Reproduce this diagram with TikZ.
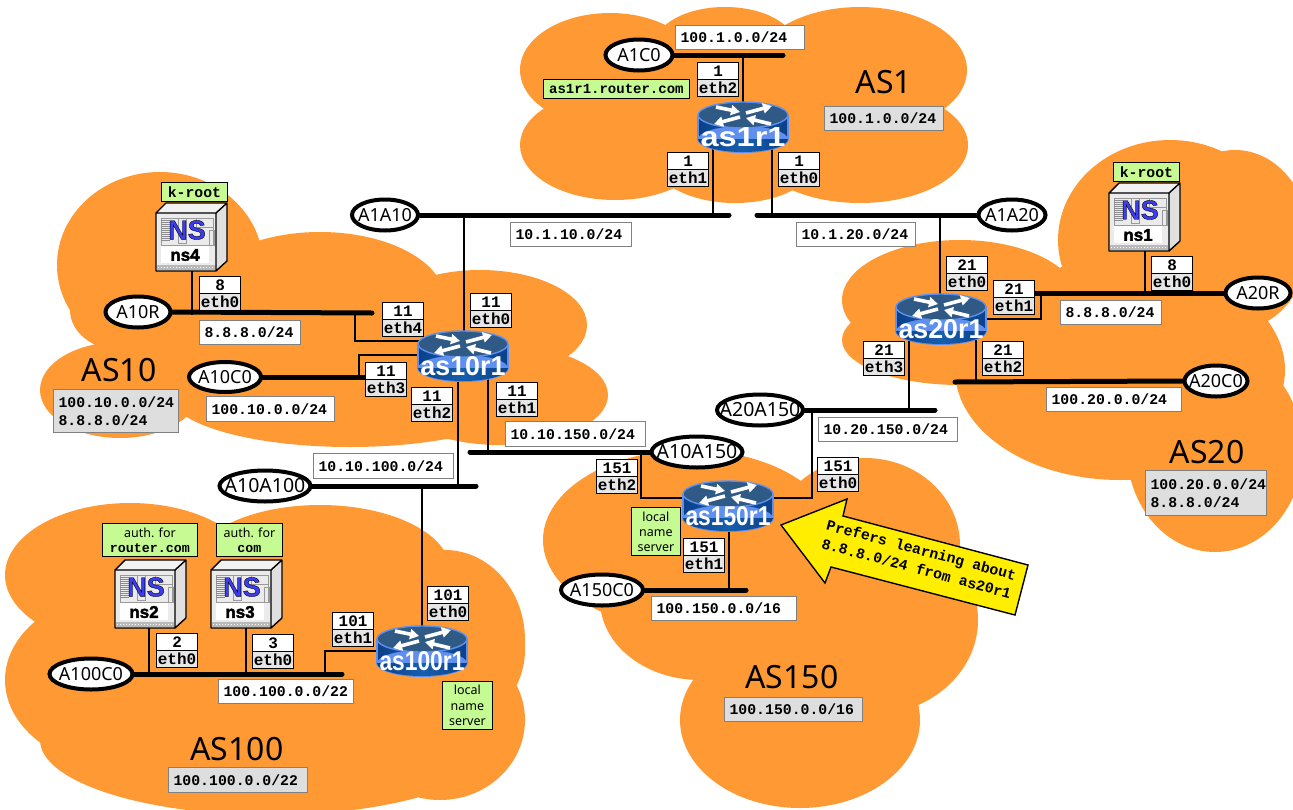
\documentclass[tikz,border=0pt]{standalone}
\usepackage{fontspec}
\setmainfont{Noto Sans}
\newfontfamily\cou{Liberation Mono}
\newfontfamily\ari{Liberation Sans}
\usetikzlibrary{shapes.geometric,arrows.meta,calc}
\definecolor{cloudc}{HTML}{FF9933}
\definecolor{greenb}{HTML}{C6FB93}
\definecolor{grayb}{HTML}{DEDEDE}
\definecolor{ifgray}{HTML}{E6E6E6}
\definecolor{boxedge}{HTML}{808080}
\definecolor{yelc}{HTML}{FFEE00}
\definecolor{rtop}{HTML}{2F5A85}
\definecolor{redge}{HTML}{5F8FEF}
\definecolor{rdark}{HTML}{0B3F88}
\definecolor{rmid}{HTML}{165FAE}
\tikzset{
  netnode/.style={ellipse,draw=black,line width=4pt,fill=white,inner sep=0pt,font=\fontsize{18}{20}\selectfont},
  netwide/.style={netnode,font=\fontsize{19.5}{20}\selectfont},
  bus/.style={line width=5pt,line cap=round,black},
  wire/.style={line width=1.4pt,black},
  subnetbox/.style={draw=boxedge,line width=1.2pt,fill=white},
  asbox/.style={draw=boxedge,line width=1.2pt,fill=grayb},
  greenbox/.style={draw=black,line width=.8pt,fill=greenb,inner sep=0pt,align=center},
  ifnum/.style={draw=black,line width=1.1pt,fill=white,minimum width=41pt,minimum height=17pt,inner sep=0pt,font=\fontsize{16}{16}\selectfont\cou\bfseries},
  ifname/.style={draw=black,line width=1.1pt,fill=ifgray,minimum width=41pt,minimum height=17pt,inner sep=0pt,font=\fontsize{16}{16}\selectfont\cou\bfseries},
  aslabel/.style={inner sep=0pt,font=\fontsize{32}{33}\selectfont},
  placeholder/.style={minimum width=90pt,minimum height=50pt,inner sep=0pt},
}
\newcommand{\nettext}[1]{\makebox[0pt]{#1}}
% left-aligned address box given by its corners
\newcommand{\addrbox}[7]{%
  \pgfmathsetlengthmacro{\tw}{#5-#3-10}\pgfmathsetlengthmacro{\th}{#6-#4}%
  \node[#2,anchor=north west,inner xsep=5pt,inner ysep=0pt,text width=\tw,minimum height=\th,align=left,
    font=\fontsize{14.8}{18}\selectfont\cou\bfseries] (#1) at (#3,#4) {#7};}
\newcommand{\greenlabel}[7]{%
  \pgfmathsetlengthmacro{\tw}{#4-#2}\pgfmathsetlengthmacro{\th}{#5-#3}%
  \node[greenbox,anchor=north west,minimum width=\tw,minimum height=\th,#6] (#1) at (#2,#3) {#7};}
\newcommand{\iflabel}[5]{%
  \node[ifnum,anchor=north west] (#1n) at (#2,#3) {#4};
  \node[ifname,anchor=north west] (#1e) at (#2,#3+17) {#5};}
\newcommand{\oncloud}[4]{(#1,#2) ellipse [x radius=#3,y radius=#4]}
\newcommand{\routerdraw}[2]{%
  \begin{scope}[shift={(#1.center)}]
    \fill[redge] (0,12) ellipse [x radius=46,y radius=14];
    \shade[left color=rdark,right color=rdark,middle color=rmid]
       (-45,-12) rectangle (45,12) (0,12) ellipse [x radius=45,y radius=13];
    \draw[redge,line width=1.2pt] (-45,-12) -- (-45,12) (45,-12) -- (45,12);
    \draw[line width=1.4pt,draw=redge,fill=rtop] (0,-12) ellipse [x radius=45,y radius=13];
    \draw[white,line width=3.6pt,-{Triangle[length=9pt,width=10pt]}] (-27,-20) -- (-3,-15);
    \draw[white,line width=3.6pt,-{Triangle[length=9pt,width=10pt]}] (3,-14) -- (29,-21);
    \draw[white,line width=3.6pt,-{Triangle[length=9pt,width=10pt]}] (-3,-10) -- (-29,-3);
    \draw[white,line width=3.6pt,-{Triangle[length=9pt,width=10pt]}] (28,-3) -- (3,-9);
    \node[inner sep=0pt,text=white] (#1-lbl) at (0,10.5) {\resizebox{85pt}{19pt}{\ari\bfseries #2}};
  \end{scope}}
\newcommand{\serverdraw}[2]{%
  \begin{scope}[shift={(#1.north west)}]
    \fill[white!92!black] (0,10) rectangle (60,68);
    \fill[white!95!black] (0,10) -- (10,0) -- (71,0) -- (60,10) -- cycle;
    \fill[white!88!black] (60,10) -- (71,0) -- (71,58) -- (60,68) -- cycle;
    \draw[gray!80,line width=.6pt] (5,15) rectangle (57,42) (40,15) rectangle (57,24) (53,27) rectangle (58,42) (22,15) rectangle (30,40);
    \foreach \v in {17,19,...,37} \draw[gray!90,line width=.7pt] (5,\v) -- (14,\v);
    \fill[white] (5,43) rectangle (53,60);
    \fill[gray!55] (1,62) rectangle (59,67);
    \draw[white,line width=1pt,dash pattern=on 1pt off 2pt] (2,64.5) -- (58,64.5);
    \draw[black,line width=1.4pt,line join=round] (0,10) -- (10,0) -- (71,0) -- (71,58) -- (60,68) -- (0,68) -- cycle (0,10) -- (60,10) -- (71,0) (60,10) -- (60,68);
    \node[inner sep=0pt,text={rgb,255:red,60;green,60;blue,240}] (#1-ns) at (31,27) {\fontsize{27}{27}\selectfont\ari\bfseries\special{pdf:code 2 Tr 0.4 w 0 0 0 RG}NS\special{pdf:code 0 Tr}};
    \node[inner sep=0pt] (#1-lbl) at (29,52) {\fontsize{17}{17}\selectfont\ari\bfseries\special{pdf:code 2 Tr 0.4 w 0 0 0 RG}#2\special{pdf:code 0 Tr}};
  \end{scope}}
\begin{document}
\begin{tikzpicture}[x=1pt,y=-1pt]
\path[use as bounding box,clip] (0,0) rectangle (1293,809);
\fill[white] (0,0) rectangle (1293,809);
% AS clouds
\fill[cloudc] \oncloud{610}{70}{90}{57} \oncloud{725}{45}{70}{38} \oncloud{860}{70}{107}{63}
  \oncloud{615}{145}{95}{55} \oncloud{735}{155}{85}{48} \oncloud{860}{145}{108}{58} \oncloud{740}{100}{120}{60};
\fill[cloudc] \oncloud{160}{265}{103}{93} \oncloud{120}{310}{50}{40} \oncloud{320}{300}{125}{68} \oncloud{480}{325}{107}{55}
  \oncloud{500}{395}{108}{50} \oncloud{350}{395}{180}{52} \oncloud{120}{390}{80}{48} \oncloud{200}{340}{100}{50};
\fill[cloudc] \oncloud{1170}{240}{112}{100} \oncloud{1235}{240}{75}{90} \oncloud{960}{300}{118}{60} \oncloud{960}{340}{118}{45}
  \oncloud{1000}{335}{100}{55} \oncloud{1120}{370}{165}{110} \oncloud{1215}{450}{88}{102};
\fill[cloudc] \oncloud{690}{540}{147}{90} \oncloud{865}{545}{95}{87} \oncloud{870}{620}{108}{95} \oncloud{800}{720}{120}{88} \oncloud{700}{600}{100}{80};
\fill[cloudc] \oncloud{130}{575}{125}{72} \oncloud{320}{570}{130}{65} \oncloud{445}{640}{80}{90} \oncloud{300}{650}{225}{130}
  \oncloud{130}{680}{125}{90} \oncloud{270}{740}{230}{75} \oncloud{440}{720}{85}{80};
% network end points
\node[netnode,minimum width=67pt,minimum height=31pt] (A1C0) at (639,55) {\nettext{A1C0}};
\node[netnode,minimum width=66pt,minimum height=31pt] (A1A10) at (385,215) {\nettext{A1A10}};
\node[netnode,minimum width=67pt,minimum height=31pt] (A1A20) at (1012,215) {\nettext{A1A20}};
\node[netnode,minimum width=65pt,minimum height=31pt] (A10R) at (138,312) {\nettext{A10R}};
\node[netnode,minimum width=72pt,minimum height=30pt] (A10C0) at (225,377) {\nettext{A10C0}};
\node[netwide,minimum width=91pt,minimum height=31pt] (A10A150) at (697,452) {\nettext{A10A150}};
\node[netwide,minimum width=91pt,minimum height=31pt] (A10A100) at (265,486) {\nettext{A10A100}};
\node[netwide,minimum width=86pt,minimum height=31pt] (A20A150) at (760,410) {\nettext{A20A150}};
\node[netnode,minimum width=65pt,minimum height=31pt] (A20R) at (1258,293) {\nettext{A20R}};
\node[netnode,minimum width=63pt,minimum height=31pt] (A20C0) at (1216,381) {\nettext{A20C0}};
\node[netnode,minimum width=82pt,minimum height=31pt] (A150C0) at (602,590) {\nettext{A150C0}};
\node[netnode,minimum width=83pt,minimum height=31pt] (A100C0) at (91,674) {\nettext{A100C0}};
% device placeholders
\node[placeholder] (as1r1) at (743,127) {};
\node[placeholder] (as10r1) at (463,356) {};
\node[placeholder] (as20r1) at (941,319) {};
\node[placeholder] (as150r1) at (728,506) {};
\node[placeholder] (as100r1) at (422,651) {};
\node[anchor=north west,inner sep=0pt,minimum width=71pt,minimum height=68pt] (ns4) at (156,203) {};
\node[anchor=north west,inner sep=0pt,minimum width=71pt,minimum height=68pt] (ns1) at (1109,183) {};
\node[anchor=north west,inner sep=0pt,minimum width=71pt,minimum height=68pt] (ns2) at (115,560) {};
\node[anchor=north west,inner sep=0pt,minimum width=71pt,minimum height=68pt] (ns3) at (211,560) {};
% bus ends
\coordinate (e1c0) at (783,55);
\coordinate (e1a10) at (729,215);
\coordinate (e1a20) at (757,215);
\coordinate (e10r) at (372,313);
\coordinate (e10c0) at (372,377);
\coordinate (e10a150) at (470,452);
\coordinate (e10a100) at (476,486);
\coordinate (e20a150) at (935,410);
\coordinate (e20r) at (1034,293);
\coordinate (e20c0) at (955,382);
\coordinate (e150c0) at (746,590);
\coordinate (e100c0) at (342,674);
\draw[bus] (A1C0.east) -- (e1c0);
\draw[bus] (A1A10.east) -- (e1a10);
\draw[bus] (A1A20.west) -- (e1a20);
\draw[bus] (A10R.east) -- (e10r);
\draw[bus] (A10C0.east) -- (e10c0);
\draw[bus] (A10A150.west) -- (e10a150);
\draw[bus] (A10A100.east) -- (e10a100);
\draw[bus] (A20A150.east) -- (e20a150);
\draw[bus] (A20R.west) -- (e20r);
\draw[bus] (A20C0.west) -- (e20c0);
\draw[bus] (A150C0.east) -- (e150c0);
\draw[bus] (A100C0.east) -- (e100c0);
% taps on the buses
\coordinate (t1) at (743,55);
\coordinate (t2) at (713,217);
\coordinate (t3) at (772,217);
\coordinate (t4) at (464,215);
\coordinate (t5) at (355,313);
\coordinate (t6) at (359,377);
\coordinate (t7) at (458,486);
\coordinate (t8) at (488,452);
\coordinate (t9) at (940,215);
\coordinate (t10) at (1041,293);
\coordinate (t11) at (909,410);
\coordinate (t12) at (976,382);
\coordinate (t13) at (641,452);
\coordinate (t14) at (812,410);
\coordinate (t15) at (729,592);
\coordinate (t16) at (422,486);
\coordinate (t17) at (325,674);
\coordinate (t18) at (192,315);
\coordinate (t19) at (1145,296);
\coordinate (t20) at (149,674);
\coordinate (t21) at (246,674);
\coordinate (p10a) at (430,341);
\coordinate (p10b) at (430,355);
\coordinate (p150a) at (700,498);
\coordinate (p150b) at (760,498);
\draw[wire] (t1) -- (t1 |- as1r1.center);
\draw[wire] (t2) -- (t2 |- as1r1.center);
\draw[wire] (t3) -- (t3 |- as1r1.center);
\draw[wire] (t4) -- (t4 |- as10r1.center);
\draw[wire] (t5) |- (p10a);
\draw[wire] (t6) |- (p10b);
\draw[wire] (t7) -- (t7 |- as10r1.center);
\draw[wire] (t8) -- (t8 |- as10r1.center);
\draw[wire] (t9) -- (t9 |- as20r1.center);
\draw[wire] (t10) |- (as20r1.center);
\draw[wire] (t11) -- (t11 |- as20r1.center);
\draw[wire] (t12) -- (t12 |- as20r1.center);
\draw[wire] (t13) |- (p150a);
\draw[wire] (t14) |- (p150b);
\draw[wire] (t15) -- (t15 |- as150r1.center);
\draw[wire] (t16) -- (t16 |- as100r1.center);
\draw[wire] (t17) |- (as100r1.center);
\draw[wire] (t18) -- (t18 |- ns4.south);
\draw[wire] (t19) -- (t19 |- ns1.south);
\draw[wire] (t20) -- (t20 |- ns2.south);
\draw[wire] (t21) -- (t21 |- ns3.south);
% devices
\routerdraw{as1r1}{as1r1}
\routerdraw{as10r1}{as10r1}
\routerdraw{as20r1}{as20r1}
\routerdraw{as150r1}{as150r1}
\routerdraw{as100r1}{as100r1}
\serverdraw{ns4}{ns4}
\serverdraw{ns1}{ns1}
\serverdraw{ns2}{ns2}
\serverdraw{ns3}{ns3}
% subnet boxes
\addrbox{s1}{subnetbox}{675}{25}{804}{49}{100.1.0.0/24}
\addrbox{s2}{subnetbox}{510}{222}{631}{246}{10.1.10.0/24}
\addrbox{s3}{subnetbox}{796}{222}{915}{246}{10.1.20.0/24}
\addrbox{s4}{subnetbox}{199}{320}{300}{344}{8.8.8.0/24}
\addrbox{s5}{subnetbox}{206}{396}{334}{421}{100.10.0.0/24}
\addrbox{s6}{subnetbox}{505}{421}{645}{446}{10.10.150.0/24}
\addrbox{s7}{subnetbox}{313}{453}{453}{478}{10.10.100.0/24}
\addrbox{s8}{subnetbox}{818}{417}{957}{441}{10.20.150.0/24}
\addrbox{s9}{subnetbox}{1046}{387}{1181}{411}{100.20.0.0/24}
\addrbox{s10}{subnetbox}{1060}{300}{1161}{324}{8.8.8.0/24}
\addrbox{s11}{subnetbox}{651}{596}{796}{620}{100.150.0.0/16}
\addrbox{s12}{subnetbox}{218}{679}{353}{703}{100.100.0.0/22}
% AS address boxes
\addrbox{a1}{asbox}{824}{106}{943}{130}{100.1.0.0/24}
\addrbox{a2}{asbox}{53}{389}{178}{432}{100.10.0.0/24\\8.8.8.0/24}
\addrbox{a3}{asbox}{1145}{470}{1266}{515}{100.20.0.0/24\\8.8.8.0/24}
\addrbox{a4}{asbox}{724}{697}{862}{721}{100.150.0.0/16}
\addrbox{a5}{asbox}{168}{767}{307}{792}{100.100.0.0/22}
% AS names
\node[aslabel] (AS1) at (884,82) {AS1};
\node[aslabel] (AS10) at (119,370) {AS10};
\node[aslabel] (AS20) at (1207,452) {AS20};
\node[aslabel] (AS150) at (792,677) {AS150};
\node[aslabel] (AS100) at (237,749) {AS100};
% interfaces
\iflabel{i1}{697}{62}{1}{eth2}
\iflabel{i2}{667}{152}{1}{eth1}
\iflabel{i3}{778}{152}{1}{eth0}
\iflabel{i4}{199}{276}{8}{eth0}
\iflabel{i5}{382}{302}{11}{eth4}
\iflabel{i6}{470}{293}{11}{eth0}
\iflabel{i7}{365}{362}{11}{eth3}
\iflabel{i8}{411}{387}{11}{eth2}
\iflabel{i9}{496}{382}{11}{eth1}
\iflabel{i10}{946}{256}{21}{eth0}
\iflabel{i11}{993}{280}{21}{eth1}
\iflabel{i12}{1151}{256}{8}{eth0}
\iflabel{i13}{863}{341}{21}{eth3}
\iflabel{i14}{982}{341}{21}{eth2}
\iflabel{i15}{596}{459}{151}{eth2}
\iflabel{i16}{817}{457}{151}{eth0}
\iflabel{i17}{683}{538}{151}{eth1}
\iflabel{i18}{156}{633}{2}{eth0}
\iflabel{i19}{252}{634}{3}{eth0}
\iflabel{i20}{332}{612}{101}{eth1}
\iflabel{i21}{427}{586}{101}{eth0}
% green notes
\greenlabel{g1}{543}{79}{689}{98}{font=\fontsize{14}{14}\selectfont\cou\bfseries}{as1r1.router.com}
\greenlabel{g2}{161}{182}{227}{201}{font=\fontsize{14.8}{15}\selectfont\cou\bfseries}{k-root}
\greenlabel{g3}{1113}{162}{1179}{181}{font=\fontsize{14.8}{15}\selectfont\cou\bfseries}{k-root}
\greenlabel{g4}{102}{523}{197}{556}{font=\fontsize{12.5}{15}\selectfont}{auth. for\\{\fontsize{13.3}{15}\selectfont\cou\bfseries router.com}}
\greenlabel{g5}{216}{523}{282}{556}{font=\fontsize{12.5}{15}\selectfont}{auth. for\\{\fontsize{13.3}{15}\selectfont\cou\bfseries com}}
\greenlabel{g6}{631}{507}{680}{555}{font=\fontsize{12.5}{15}\selectfont}{local\\name\\server}
\greenlabel{g7}{442}{681}{492}{729}{font=\fontsize{12.5}{15.5}\selectfont}{local\\name\\server}
% callout arrow
\draw[fill=yelc,draw=black,line width=1.4pt,line join=miter]
  (781,525) -- (847,499) -- (843,516) -- (1028,565) -- (1015,615) -- (831,567) -- (825,583) -- cycle;
\node[rotate=-15,inner sep=0pt,align=center,font=\fontsize{14.8}{19}\selectfont\cou\bfseries] (note) at (919,559)
  {Prefers learning about\\8.8.8.0/24 from as20r1};
\end{tikzpicture}
\end{document}
